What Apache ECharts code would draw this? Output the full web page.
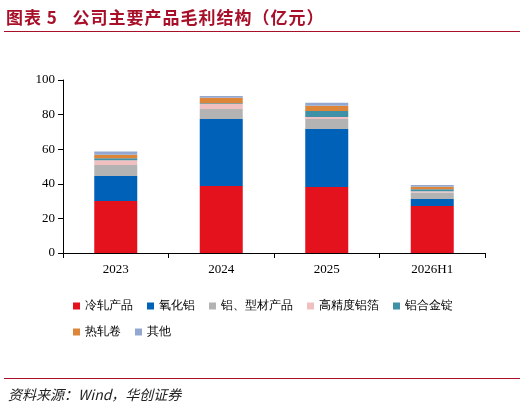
<!DOCTYPE html>
<html><head><meta charset="utf-8">
<script src="https://cdn.jsdelivr.net/npm/echarts@6/dist/echarts.min.js"></script>
<style>
body{margin:0;background:#fff;font-family:"Noto Sans CJK SC",sans-serif}
#title{position:absolute;left:6px;top:4px;font-size:17px;font-weight:bold;color:#A8102A;letter-spacing:1px}
#rule1{position:absolute;left:4px;right:4px;top:31px;border-top:1.5px solid #A8102A}
#rule2{position:absolute;left:4px;right:4px;top:378px;border-top:1px solid #A8102A}
#src{position:absolute;left:8px;top:384px;font-size:14px;font-style:italic;color:#222}
#c{position:absolute;left:0;top:0;width:524px;height:413px}
</style></head><body>
<div id="c"></div>
<div id="title">图表 5&nbsp;&nbsp;&nbsp;公司主要产品毛利结构（亿元）</div>
<div id="rule1"></div><div id="rule2"></div>
<div id="src">资料来源：Wind，华创证券</div>
<script>
const categories = ['2023', '2024', '2025', '2026H1'];
const names = ['冷轧产品', '氧化铝', '铝、型材产品', '高精度铝箔', '铝合金锭', '热轧卷', '其他'];
const colors = ['#E3121D', '#0061B8', '#B3B3B3', '#F0C0C0', '#3F91A8', '#DD8538', '#93A8D0'];
const coldRolled = [30.0, 38.7, 38.2, 27.2];
const alumina = [14.5, 38.8, 33.5, 4.0];
const profiles = [6.4, 5.7, 5.8, 3.7];
const foil = [2.7, 2.9, 1.1, 0.8];
const ingot = [1.1, 0.4, 3.5, 1.1];
const hotRolled = [2.1, 3.3, 3.0, 1.5];
const other = [1.8, 1.0, 1.8, 1.0];
const values = [coldRolled, alumina, profiles, foil, ingot, hotRolled, other];

const chart = echarts.init(document.getElementById('c'));
chart.setOption({
  animation: false,
  grid: { left: 63, right: 39, top: 80, height: 173 },
  legend: {
    left: 68, top: 295, width: 420, itemWidth: 7, itemHeight: 7, itemGap: 14,
    icon: 'rect', textStyle: { fontSize: 12, color: '#000', width: 76 },
    data: names
  },
  xAxis: {
    type: 'category', data: categories,
    axisLine: { lineStyle: { color: '#000' } },
    axisTick: { show: true, lineStyle: { color: '#000' } },
    axisLabel: { color: '#000', fontSize: 13, fontFamily: 'Liberation Serif', margin: 10 }
  },
  yAxis: {
    type: 'value', min: 0, max: 100, interval: 20,
    axisLine: { show: true, lineStyle: { color: '#000' } },
    axisTick: { show: true, lineStyle: { color: '#000' } },
    splitLine: { show: false },
    axisLabel: { color: '#000', fontSize: 13, fontFamily: 'Liberation Serif' }
  },
  series: names.map((n, i) => ({
    name: n, type: 'bar', stack: 'a', barWidth: 43,
    itemStyle: { color: colors[i] },
    data: values[i]
  }))
});
</script></body></html>
